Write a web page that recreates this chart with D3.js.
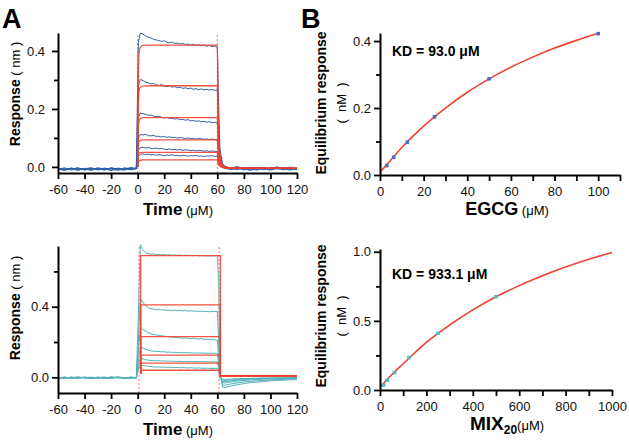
<!DOCTYPE html>
<html>
<head>
<meta charset="utf-8">
<script src="https://cdn.jsdelivr.net/npm/d3@7"></script>
<style>
  body { margin: 0; background: #fff; }
  svg { display: block; }
</style>
</head>
<body>
<div id="chart"></div>
<script>
// ---- panel A : sensorgrams ----
// time points (s), shared by every trace
var time = [-60,-55,-50,-45,-40,-35,-30,-25,-20,-15,-10,-5,-1,
  0.5,2,4,6,8,10,12,14,16,18,20,22,24,26,28,30,32,34,36,38,40,42,44,46,48,50,52,54,56,58,60,
  61,62,64,66,70,75,80,85,90,95,100,105,110,115,120];
var timeTicks = [-60,-40,-20,0,20,40,60,80,100,120];

// EGCG traces (nm)
var egcgTraces = [
  [-0.004,-0.010,-0.006,-0.012,-0.005,-0.009,-0.003,-0.008,-0.011,-0.004,-0.007,-0.002,-0.006,
   0.43,0.462,0.458,0.452,0.447,0.445,0.44,0.438,0.436,0.433,0.435,0.43,0.428,0.431,0.426,0.427,0.424,0.426,0.422,0.424,0.421,0.423,0.419,0.421,0.418,0.42,0.416,0.419,0.415,0.417,0.414,
   0.2,0.06,0.01,0.002,-0.004,0.001,-0.006,-0.002,-0.008,-0.003,-0.006,0.0,-0.005,-0.009,-0.004],
  [-0.008,-0.003,-0.011,-0.006,-0.009,-0.004,-0.010,-0.005,-0.007,-0.012,-0.003,-0.008,-0.005,
   0.28,0.302,0.298,0.293,0.29,0.286,0.288,0.283,0.281,0.284,0.279,0.277,0.28,0.275,0.277,0.273,0.275,0.271,0.273,0.27,0.272,0.268,0.27,0.267,0.269,0.266,0.268,0.265,0.267,0.264,0.266,
   0.13,0.04,0.008,0.0,-0.006,-0.001,-0.008,-0.003,-0.005,-0.010,-0.002,-0.007,-0.004,-0.001,-0.006],
  [-0.006,-0.011,-0.004,-0.009,-0.007,-0.012,-0.005,-0.010,-0.003,-0.008,-0.006,-0.010,-0.004,
   0.17,0.186,0.184,0.181,0.178,0.179,0.175,0.173,0.175,0.171,0.169,0.171,0.167,0.168,0.165,0.167,0.163,0.164,0.161,0.163,0.159,0.16,0.157,0.159,0.156,0.157,0.154,0.156,0.153,0.154,0.151,
   0.08,0.025,0.004,-0.002,-0.008,-0.003,-0.010,-0.005,-0.002,-0.007,-0.011,-0.004,-0.008,-0.003,-0.009],
  [-0.010,-0.005,-0.008,-0.003,-0.011,-0.006,-0.009,-0.004,-0.012,-0.007,-0.005,-0.009,-0.006,
   0.1,0.112,0.11,0.113,0.108,0.107,0.109,0.105,0.106,0.103,0.105,0.102,0.104,0.101,0.102,0.099,0.101,0.1,0.098,0.1,0.097,0.099,0.096,0.098,0.097,0.095,0.097,0.094,0.096,0.095,0.094,
   0.05,0.015,0.002,-0.003,-0.005,-0.009,-0.002,-0.007,-0.011,-0.004,-0.006,-0.001,-0.008,-0.005,-0.010],
  [-0.007,-0.012,-0.004,-0.008,-0.006,-0.003,-0.010,-0.007,-0.005,-0.009,-0.011,-0.004,-0.007,
   0.058,0.066,0.068,0.065,0.067,0.064,0.063,0.065,0.062,0.064,0.061,0.06,0.062,0.059,0.061,0.058,0.06,0.057,0.059,0.058,0.056,0.058,0.055,0.057,0.056,0.054,0.056,0.053,0.055,0.054,0.053,
   0.03,0.01,0.0,-0.004,-0.009,-0.004,-0.007,-0.012,-0.005,-0.003,-0.008,-0.006,-0.010,-0.004,-0.007],
  [-0.005,-0.009,-0.007,-0.004,-0.010,-0.008,-0.006,-0.011,-0.004,-0.006,-0.009,-0.007,-0.003,
   0.036,0.043,0.045,0.042,0.044,0.041,0.043,0.04,0.042,0.041,0.039,0.041,0.04,0.042,0.039,0.04,0.038,0.04,0.039,0.037,0.039,0.038,0.04,0.037,0.038,0.036,0.038,0.037,0.039,0.036,0.037,
   0.02,0.006,-0.002,-0.005,-0.003,-0.008,-0.005,-0.010,-0.006,-0.002,-0.009,-0.005,-0.007,-0.011,-0.004]
];
var egcgFitTime = [0,0.5,1,2,4,10,20,30,40,50,60,60.5,61,62,64,70,80,100,120];
var egcgFits = [
  [0,0.33,0.39,0.412,0.419,0.42,0.42,0.42,0.42,0.42,0.42,0.25,0.13,0.04,0.006,-0.004,-0.005,-0.005,-0.005],
  [0,0.22,0.26,0.275,0.279,0.28,0.28,0.28,0.28,0.28,0.28,0.17,0.09,0.027,0.004,-0.004,-0.005,-0.005,-0.005],
  [0,0.135,0.158,0.167,0.17,0.17,0.17,0.17,0.17,0.17,0.17,0.1,0.055,0.016,0.002,-0.004,-0.005,-0.005,-0.005],
  [0,0.074,0.087,0.091,0.093,0.093,0.093,0.093,0.093,0.093,0.093,0.056,0.03,0.009,0.0,-0.004,-0.005,-0.005,-0.005],
  [0,0.04,0.047,0.049,0.05,0.05,0.05,0.05,0.05,0.05,0.05,0.03,0.016,0.005,-0.001,-0.004,-0.005,-0.005,-0.005],
  [0,0.019,0.022,0.023,0.024,0.024,0.024,0.024,0.024,0.024,0.024,0.014,0.007,0.002,-0.002,-0.004,-0.005,-0.005,-0.005]
];
var egcgMarks = [0, 60];

// MIX20 traces (nm)
var mixTraces = [
  [-0.004,0.002,-0.006,0.001,-0.003,-0.007,0.0,-0.005,0.003,-0.002,-0.006,0.001,-0.003,
   0.35,0.752,0.72,0.705,0.7,0.697,0.699,0.695,0.697,0.694,0.696,0.693,0.695,0.692,0.694,0.691,0.693,0.69,0.692,0.69,0.691,0.689,0.691,0.688,0.69,0.688,0.689,0.687,0.689,0.688,0.69,
   0.55,0.03,-0.055,-0.058,-0.05,-0.042,-0.036,-0.03,-0.027,-0.024,-0.02,-0.018,-0.016,-0.014,-0.013],
  [-0.002,-0.006,0.002,-0.004,-0.001,-0.005,0.001,-0.007,-0.003,0.002,-0.004,-0.001,-0.005,
   0.2,0.448,0.425,0.405,0.393,0.388,0.386,0.383,0.385,0.381,0.383,0.379,0.381,0.378,0.38,0.377,0.379,0.376,0.378,0.375,0.377,0.374,0.376,0.373,0.375,0.372,0.374,0.371,0.373,0.372,0.374,
   0.2,0.01,-0.042,-0.045,-0.038,-0.032,-0.027,-0.023,-0.02,-0.018,-0.015,-0.013,-0.012,-0.01,-0.009],
  [-0.005,0.0,-0.003,-0.007,0.001,-0.004,-0.002,0.002,-0.006,-0.001,-0.004,0.001,-0.002,
   0.15,0.283,0.272,0.262,0.252,0.247,0.243,0.24,0.238,0.235,0.233,0.231,0.229,0.228,0.226,0.225,0.223,0.222,0.223,0.22,0.219,0.221,0.218,0.217,0.219,0.215,0.216,0.213,0.215,0.212,0.211,
   0.12,0.005,-0.03,-0.032,-0.027,-0.022,-0.018,-0.015,-0.013,-0.011,-0.01,-0.008,-0.007,-0.006,-0.006],
  [-0.001,-0.005,-0.002,0.002,-0.004,-0.006,0.0,-0.003,-0.005,0.001,-0.002,-0.006,-0.001,
   0.09,0.173,0.166,0.159,0.154,0.15,0.148,0.146,0.147,0.144,0.145,0.142,0.143,0.141,0.142,0.14,0.141,0.139,0.14,0.138,0.139,0.137,0.138,0.137,0.138,0.136,0.137,0.135,0.137,0.136,0.135,
   0.07,0.0,-0.022,-0.024,-0.02,-0.016,-0.013,-0.011,-0.009,-0.008,-0.007,-0.006,-0.005,-0.005,-0.004],
  [-0.004,-0.001,-0.005,-0.002,0.001,-0.003,-0.006,-0.001,-0.004,0.0,-0.005,-0.002,-0.003,
   0.06,0.108,0.104,0.1,0.097,0.095,0.094,0.093,0.094,0.092,0.093,0.091,0.092,0.09,0.091,0.09,0.091,0.089,0.09,0.089,0.09,0.088,0.089,0.088,0.089,0.087,0.088,0.087,0.088,0.087,0.088,
   0.045,-0.002,-0.016,-0.018,-0.015,-0.012,-0.01,-0.008,-0.007,-0.006,-0.005,-0.005,-0.004,-0.004,-0.003],
  [-0.003,-0.006,-0.001,-0.004,-0.002,0.001,-0.005,-0.003,0.0,-0.004,-0.002,-0.005,-0.001,
   0.04,0.07,0.067,0.064,0.062,0.06,0.059,0.058,0.059,0.057,0.058,0.056,0.057,0.056,0.055,0.056,0.054,0.055,0.054,0.053,0.054,0.053,0.052,0.053,0.052,0.051,0.052,0.051,0.05,0.051,0.05,
   0.03,-0.003,-0.01,-0.012,-0.01,-0.008,-0.007,-0.006,-0.005,-0.004,-0.004,-0.003,-0.003,-0.003,-0.002]
];
var mixFitTime = [2.3, 2.3, 62.3, 62.3, 120];
var mixFits = [
  [0.02, 0.689, 0.689, 0.008, 0.008],
  [0.02, 0.41, 0.41, 0.008, 0.008],
  [0.02, 0.23, 0.23, 0.008, 0.008],
  [0.02, 0.126, 0.126, 0.008, 0.008],
  [0.02, 0.08, 0.08, 0.008, 0.008],
  [0.02, 0.04, 0.04, 0.008, 0.008]
];
var mixMarks = [1, 61.3];

// ---- panel B : steady state binding ----
var egcgConc = [3.125, 6.25, 12.5, 25, 50, 100];
var egcgResp = [0.028, 0.053, 0.098, 0.174, 0.287, 0.422];
var egcgCurveX = [0, 5, 10, 20, 30, 40, 50, 60, 70, 80, 90, 100];
var egcgCurveY = [0.008, 0.045, 0.082, 0.146, 0.2, 0.247, 0.287, 0.322, 0.352, 0.379, 0.402, 0.423];
var egcgKD = "KD = 93.0 μM";

var mixConc = [15.6, 31.25, 62.5, 125, 250, 500];
var mixResp = [0.036, 0.07, 0.125, 0.234, 0.41, 0.675];
var mixCurveX = [0, 50, 100, 200, 300, 400, 500, 600, 700, 800, 900, 1000];
var mixCurveY = [0.02, 0.11, 0.19, 0.345, 0.47, 0.58, 0.675, 0.755, 0.827, 0.89, 0.946, 0.995];
var mixKD = "KD = 933.1 μM";

var font = "'Liberation Sans', Arial, sans-serif";
var blue = "#2f5ea9", teal = "#52b1ba", red = "#f2402e";

var svg = d3.select("#chart").append("svg")
  .attr("width", 629)
  .attr("height", 440)
  .style("font-family", font);

// plain hyphen for negative tick labels, like the original
function intLabel(d) { return String(d); }

// draw axes with major (labelled) and minor ticks
function axes(x, y, o) {
  var gx = svg.append("g")
    .attr("transform", "translate(0," + y.range()[0] + ")")
    .call(d3.axisBottom(x).tickValues(o.xTicks).tickSize(6).tickSizeOuter(0)
      .tickPadding(6).tickFormat(intLabel));
  if (o.xMinor) {
    svg.append("g")
      .attr("transform", "translate(0," + y.range()[0] + ")")
      .call(d3.axisBottom(x).tickValues(o.xMinor).tickSize(6).tickFormat(""))
      .call(function (g) { g.select(".domain").remove(); });
  }
  var gy = svg.append("g")
    .attr("transform", "translate(" + x.range()[0] + ",0)")
    .call(d3.axisLeft(y).tickValues(o.yTicks).tickSize(6).tickSizeOuter(0)
      .tickPadding(o.yPad).tickFormat(d3.format(".1f")));
  svg.append("g")
    .attr("transform", "translate(" + x.range()[0] + ",0)")
    .call(d3.axisLeft(y).tickValues(o.yMinor).tickSize(4).tickFormat(""))
    .call(function (g) { g.select(".domain").remove(); });

  svg.selectAll(".domain").attr("stroke", "#000").attr("stroke-width", 2);
  svg.selectAll(".tick line").attr("stroke", "#000").attr("stroke-width", 1.8);
  [gx, gy].forEach(function (g) {
    g.attr("font-family", font).attr("font-size", 13);
    g.selectAll(".tick text").attr("fill", "#111");
  });
}

// sensorgram panel
function sensorgram(o) {
  var x = d3.scaleLinear().domain([-60, 120]).range([58, 297]);
  var y = d3.scaleLinear().domain(o.yDomain).range(o.yRange);

  svg.append("g").selectAll("line")
    .data(o.marks)
    .enter().append("line")
    .attr("x1", function (d) { return x(d); })
    .attr("x2", function (d) { return x(d); })
    .attr("y1", o.yRange[0])
    .attr("y2", o.yRange[1])
    .attr("stroke", "#f07a70")
    .attr("stroke-width", 1)
    .style("stroke-dasharray", "2,2");

  var trace = d3.line()
    .x(function (d, i) { return x(time[i]); })
    .y(function (d) { return y(d); });
  svg.append("g").selectAll("path")
    .data(o.traces)
    .enter().append("path")
    .attr("d", trace)
    .attr("fill", "none")
    .attr("stroke", o.color)
    .attr("stroke-width", 1);

  var fit = d3.line()
    .x(function (d, i) { return x(o.fitTime[i]); })
    .y(function (d) { return y(d); })
    .curve(o.curve);
  svg.append("g").selectAll("path")
    .data(o.fits)
    .enter().append("path")
    .attr("d", fit)
    .attr("fill", "none")
    .attr("stroke", red)
    .attr("stroke-opacity", 0.9)
    .attr("stroke-width", 1.3);

  axes(x, y, { xTicks: timeTicks, yTicks: o.yTicks, yMinor: o.yMinor, yPad: o.yPad });

  // axis titles
  var ty = svg.append("text")
    .attr("transform", "translate(20," + o.yLabelY + ") rotate(-90)")
    .attr("text-anchor", "middle");
  ty.append("tspan").text("Response").style("font-weight", "bold").style("font-size", "14px");
  ty.append("tspan").text(" ( nm )").style("font-size", "13px").style("white-space", "pre");

  var tx = svg.append("text")
    .attr("x", 178)
    .attr("y", o.yRange[0] + 42)
    .attr("text-anchor", "middle");
  tx.append("tspan").text("Time").style("font-weight", "bold").style("font-size", "17px");
  tx.append("tspan").text(" (μM)").style("font-size", "13px");
}

// binding curve panel
function binding(o) {
  var x = d3.scaleLinear().domain(o.xDomain).range(o.xRange);
  var y = d3.scaleLinear().domain(o.yDomain).range(o.yRange);

  svg.append("path")
    .datum(o.curveX)
    .attr("fill", "none")
    .attr("stroke", red)
    .attr("stroke-width", 1.6)
    .attr("d", d3.line()
      .x(function (d) { return x(d); })
      .y(function (d, i) { return y(o.curveY[i]); })
      .curve(d3.curveMonotoneX));

  svg.append("g").selectAll("rect")
    .data(o.conc)
    .enter().append("rect")
    .attr("x", function (d) { return x(d) - 1.8; })
    .attr("y", function (d, i) { return y(o.resp[i]) - 1.8; })
    .attr("width", 3.6)
    .attr("height", 3.6)
    .attr("fill", o.color);

  axes(x, y, { xTicks: o.xTicks, xMinor: o.xMinor, yTicks: o.yTicks, yMinor: o.yMinor, yPad: 3 });

  svg.append("text")
    .attr("x", 392)
    .attr("y", o.kdY)
    .style("font-weight", "bold")
    .style("font-size", "14px")
    .text(o.kd);

  svg.append("text")
    .attr("transform", "translate(326," + o.yLabelY + ") rotate(-90)")
    .attr("text-anchor", "middle")
    .style("font-weight", "bold")
    .style("font-size", "14px")
    .text("Equilibrium response");
  svg.append("text")
    .attr("transform", "translate(346," + o.yLabelY + ") rotate(-90)")
    .attr("text-anchor", "middle")
    .style("font-size", "13px")
    .style("white-space", "pre")
    .text("(  nM  )");

  var tx = svg.append("text")
    .attr("x", 507)
    .attr("y", o.yRange[0] + 40)
    .attr("text-anchor", "middle");
  o.xLabel(tx);
}

sensorgram({
  traces: egcgTraces, fits: egcgFits, fitTime: egcgFitTime, marks: egcgMarks,
  color: blue, curve: d3.curveMonotoneX,
  yDomain: [-0.021, 0.462], yRange: [173, 33],
  yTicks: [0, 0.2, 0.4], yMinor: [0.1, 0.3], yPad: 7, yLabelY: 94
});

sensorgram({
  traces: mixTraces, fits: mixFits, fitTime: mixFitTime, marks: mixMarks,
  color: teal, curve: d3.curveLinear,
  yDomain: [-0.089, 0.744], yRange: [393, 246],
  yTicks: [0, 0.4], yMinor: [0.2, 0.6], yPad: 3, yLabelY: 308
});

binding({
  conc: egcgConc, resp: egcgResp, curveX: egcgCurveX, curveY: egcgCurveY,
  color: "#4a6cc8", kd: egcgKD, kdY: 56,
  xDomain: [0, 110], xRange: [380, 620], yDomain: [0, 0.424], yRange: [175, 33],
  xTicks: [0, 20, 40, 60, 80, 100], xMinor: [10, 30, 50, 70, 90, 110],
  yTicks: [0, 0.2, 0.4], yMinor: [0.1, 0.3], yLabelY: 103,
  xLabel: function (t) {
    t.append("tspan").text("EGCG").style("font-weight", "bold").style("font-size", "18px");
    t.append("tspan").text(" (μM)").style("font-size", "13px");
  }
});

binding({
  conc: mixConc, resp: mixResp, curveX: mixCurveX, curveY: mixCurveY,
  color: "#55b8c4", kd: mixKD, kdY: 279,
  xDomain: [0, 1000], xRange: [380, 612], yDomain: [0, 1.02], yRange: [390, 249],
  xTicks: [0, 200, 400, 600, 800, 1000], xMinor: [100, 300, 500, 700, 900],
  yTicks: [0, 0.5, 1.0], yMinor: [0.25, 0.75], yLabelY: 316,
  xLabel: function (t) {
    t.append("tspan").text("MIX").style("font-weight", "bold").style("font-size", "19px");
    t.append("tspan").text("20").attr("dy", 4).style("font-weight", "bold").style("font-size", "12px");
    t.append("tspan").text("(μM)").attr("dy", -4).style("font-size", "13px");
  }
});

// panel letters
svg.append("text").attr("x", 2).attr("y", 28)
  .style("font-weight", "bold").style("font-size", "27px").text("A");
svg.append("text").attr("x", 301).attr("y", 28)
  .style("font-weight", "bold").style("font-size", "27px").text("B");
</script>
</body>
</html>
